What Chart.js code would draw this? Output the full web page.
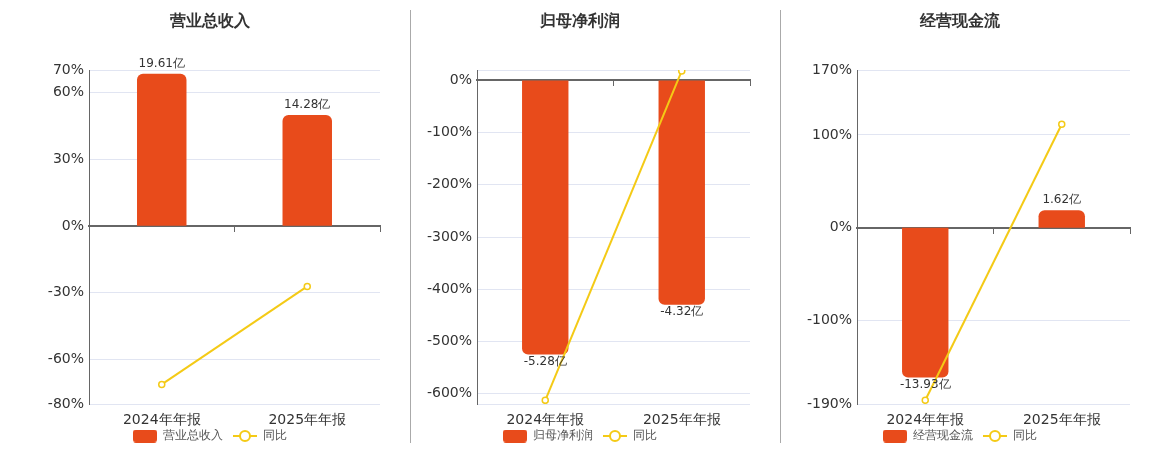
<!DOCTYPE html>
<html>
<head>
<meta charset="utf-8">
<script src="https://cdn.jsdelivr.net/npm/chart.js@4.4.0/dist/chart.umd.min.js"></script>
<style>
body { margin: 0; width: 1160px; height: 450px; background: #fff; position: relative; overflow: hidden; }
.box { position: absolute; top: 0; height: 452px; }
.sep { position: absolute; top: 10px; height: 433px; width: 1px; background: #aaa; z-index: 2; }
</style>
</head>
<body>
<div class="box" style="left:0;width:420px"><canvas id="c1"></canvas></div>
<div class="box" style="left:400px;width:360px"><canvas id="c2"></canvas></div>
<div class="box" style="left:780px;width:360px"><canvas id="c3"></canvas></div>
<div class="sep" style="left:410px"></div>
<div class="sep" style="left:780px"></div>
<script>
// data
var categories = ['2024年年报', '2025年年报'];

var revenue = [19.61, 14.28];        // 营业总收入 (亿)
var revenueYoy = [-71.2, -27.18];    // 同比 %
var revenueTicks = [-80, -60, -30, 0, 30, 60, 70];

var netProfit = [-5.28, -4.32];      // 归母净利润 (亿)
var netProfitYoy = [-613, 18.18];
var netProfitTicks = [-620, -600, -500, -400, -300, -200, -100, 0, 20];

var cashFlow = [-13.93, 1.62];       // 经营现金流 (亿)
var cashFlowYoy = [-186, 111.6];
var cashFlowTicks = [-190, -100, 0, 100, 170];

var ORANGE = '#E84B1B';
var YELLOW = '#F4CA16';

Chart.defaults.font.family = '"DejaVu Sans", sans-serif';
Chart.defaults.color = '#333';

// legend icons
function makeBarIcon() {
  var c = document.createElement('canvas');
  c.width = 24; c.height = 13;
  var g = c.getContext('2d');
  g.fillStyle = ORANGE;
  g.beginPath();
  g.roundRect(0, 0, 24, 13, 3);
  g.fill();
  return c;
}
function makeLineIcon() {
  var c = document.createElement('canvas');
  c.width = 24; c.height = 14;
  var g = c.getContext('2d');
  g.strokeStyle = YELLOW;
  g.lineWidth = 2;
  g.beginPath(); g.moveTo(0, 7); g.lineTo(24, 7); g.stroke();
  g.fillStyle = '#fff';
  g.beginPath(); g.arc(12, 7, 5, 0, Math.PI * 2); g.fill(); g.stroke();
  return c;
}
var barIcon = makeBarIcon();
var lineIcon = makeLineIcon();

var barLabels = {
  id: 'barLabels',
  afterDatasetsDraw: function(chart) {
    var ctx = chart.ctx;
    var meta = chart.getDatasetMeta(0);
    var vals = chart.data.datasets[0].data;
    ctx.save();
    ctx.font = '12px "DejaVu Sans", sans-serif';
    ctx.fillStyle = '#333';
    ctx.textAlign = 'center';
    meta.data.forEach(function(bar, i) {
      var txt = vals[i].toFixed(2) + '亿';
      if (vals[i] >= 0) {
        ctx.textBaseline = 'bottom';
        ctx.fillText(txt, bar.x, bar.y - 4);
      } else {
        ctx.textBaseline = 'top';
        ctx.fillText(txt, bar.x, bar.y + 1);
      }
    });
    ctx.restore();
  }
};

function makeChart(id, title, name, bars, yoy, ticks, barScale, axisWidth, pad, hideEnds) {
  var yMin = ticks[0], yMax = ticks[ticks.length - 1];
  return new Chart(document.getElementById(id), {
    type: 'bar',
    data: {
      labels: categories,
      datasets: [{
        label: name,
        data: bars,
        yAxisID: 'y1',
        backgroundColor: ORANGE,
        borderRadius: 6,
        barPercentage: 0.34,
        categoryPercentage: 1,
        order: 2
      }, {
        type: 'line',
        label: '同比',
        data: yoy,
        yAxisID: 'y',
        borderColor: YELLOW,
        borderWidth: 2,
        pointRadius: 3,
        pointBackgroundColor: '#fff',
        pointBorderColor: YELLOW,
        pointBorderWidth: 1.5,
        tension: 0,
        order: 1
      }]
    },
    options: {
      responsive: true,
      maintainAspectRatio: false,
      animation: false,
      layout: { padding: { left: pad, right: pad, top: 0, bottom: 0 } },
      plugins: {
        title: {
          display: true,
          text: title,
          color: '#333',
          font: { size: 16, weight: 'bold' },
          padding: { top: 12, bottom: 38.8 }
        },
        legend: {
          position: 'bottom',
          labels: {
            usePointStyle: true,
            pointStyleWidth: 24,
            boxHeight: 13,
            padding: 10,
            color: '#555',
            font: { size: 12 },
            sort: function(a, b) { return a.datasetIndex - b.datasetIndex; },
            generateLabels: function(chart) {
              var items = Chart.defaults.plugins.legend.labels.generateLabels(chart);
              items.forEach(function(it) { it.pointStyle = it.datasetIndex === 0 ? barIcon : lineIcon; });
              return items;
            }
          }
        },
        tooltip: { enabled: false }
      },
      scales: {
        x: {
          grid: { display: false, drawTicks: false },
          border: { display: false },
          // mirror keeps the labels from being clipped to the short axis box
          ticks: { color: '#333', font: { size: 14 }, mirror: true, padding: -24.4 },
          afterFit: function(s) { s.height = 16; }
        },
        x2: {
          type: 'category',
          position: { y: 0 },
          z: 1,
          grid: { offset: true, drawOnChartArea: false, drawTicks: true, tickLength: 5, color: '#666' },
          border: { display: true, color: '#666', width: 2 },
          ticks: { display: false }
        },
        y: {
          position: 'left',
          min: yMin,
          max: yMax,
          afterBuildTicks: function(s) { s.ticks = ticks.map(function(v) { return { value: v }; }); },
          afterFit: function(s) { s.width = axisWidth; },
          grid: { color: '#E1E5F2', drawTicks: false },
          border: { display: true, color: '#666', width: 1 },
          ticks: {
            color: '#333',
            font: { size: 14 },
            padding: 5,
            callback: function(v) {
              if (hideEnds && (v === yMin || v === yMax)) return '';
              return v + '%';
            }
          }
        },
        y1: {
          display: false,
          min: yMin * barScale,
          max: yMax * barScale
        }
      }
    },
    plugins: [barLabels]
  });
}

makeChart('c1', '营业总收入', '营业总收入', revenue, revenueYoy, revenueTicks, 0.287, 49, 40, false);
makeChart('c2', '归母净利润', '归母净利润', netProfit, netProfitYoy, netProfitTicks, 0.01005, 67, 10, true);
makeChart('c3', '经营现金流', '经营现金流', cashFlow, cashFlowYoy, cashFlowTicks, 0.0863, 67, 10, false);
</script>
</body>
</html>
